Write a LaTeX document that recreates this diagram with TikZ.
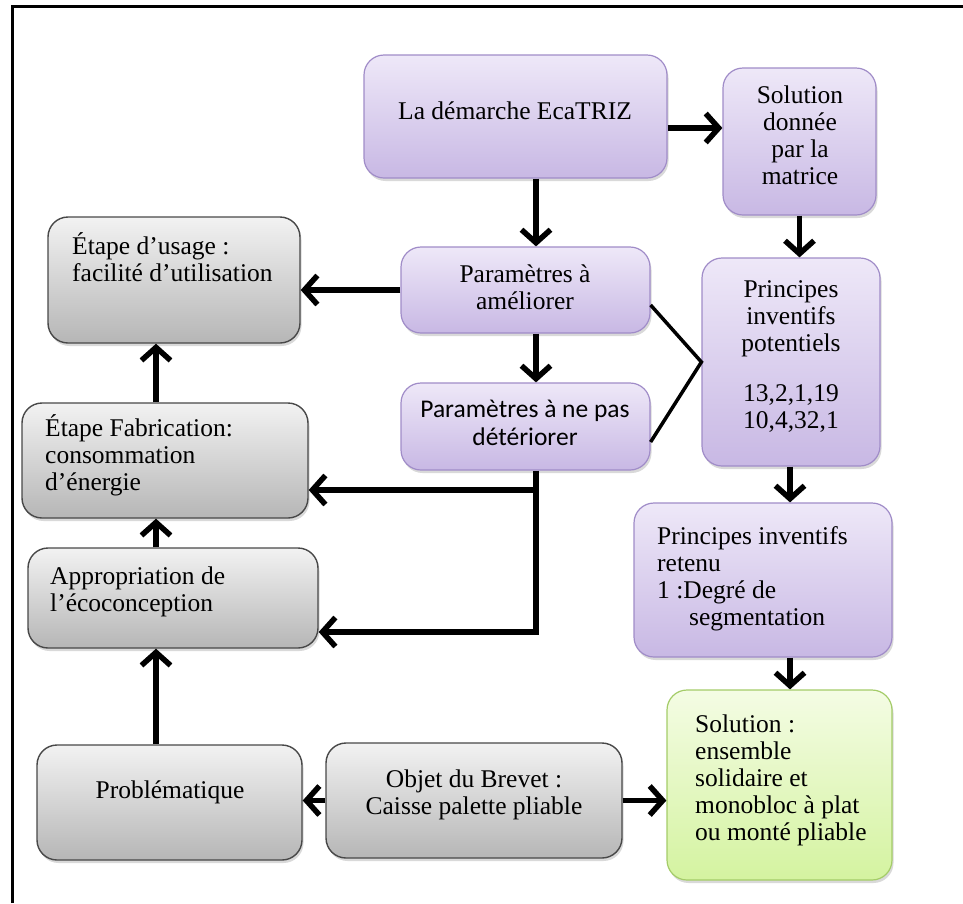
\documentclass[tikz,border=0pt]{standalone}
\usepackage{fontspec}
\setmainfont{Liberation Serif}
\newfontfamily\calibri{Carlito}
\usetikzlibrary{arrows.meta,shadows,calc}

\definecolor{mauveTop}{RGB}{238,232,248}
\definecolor{mauveBot}{RGB}{200,184,228}
\definecolor{mauveLine}{RGB}{160,140,200}
\definecolor{greyTop}{RGB}{242,242,242}
\definecolor{greyBot}{RGB}{182,182,182}
\definecolor{greyLine}{RGB}{72,72,72}
\definecolor{greenTop}{RGB}{244,252,228}
\definecolor{greenBot}{RGB}{212,243,160}
\definecolor{greenLine}{RGB}{164,204,104}

\tikzset{
  box/.style={rounded corners=20pt, inner sep=0pt,
    drop shadow={shadow xshift=1.5pt, shadow yshift=-3pt, opacity=0.3}},
  mauvebox/.style={box, draw=mauveLine, line width=1.2pt, top color=mauveTop, bottom color=mauveBot},
  greybox/.style={box, draw=greyLine, line width=1.4pt, top color=greyTop, bottom color=greyBot},
  greenbox/.style={box, draw=greenLine, line width=1.2pt, top color=greenTop, bottom color=greenBot},
  txt/.style={inner sep=0pt, align=center},
  txtl/.style={inner sep=0pt, align=left, anchor=west},
  arr/.style={line width=5.5pt, -{Straight Barb[length=13pt, width=29pt]}},
  link/.style={line width=3.5pt},
}

\begin{document}
\begin{tikzpicture}[x=1pt, y=-1pt, font=\fontsize{25.5}{27}\selectfont]
\useasboundingbox (0,0) rectangle (963,903);

% --- frame ---
\draw[line width=3pt] (12,903) -- (12,6) -- (963,6);

% --- EcaTRIZ chain (mauve) ---
\node[mauvebox, minimum width=303pt, minimum height=123pt] (ecatriz) at (515.5,116.5) {};
\node[txt] (ecatrizTxt) at (515,111) {La démarche EcaTRIZ};

\node[mauvebox, minimum width=153pt, minimum height=147pt] (matrice) at (799.5,141.5) {};
\node[txt] (matriceTxt) at (800,135) {Solution\\donnée\\par la\\matrice};

\node[mauvebox, minimum width=249pt, minimum height=86pt] (ameliorer) at (525.5,290) {};
\node[txt] (ameliorerTxt) at (525,287) {Paramètres à\\améliorer};

\node[mauvebox, minimum width=249pt, minimum height=87pt] (nepas) at (525.5,426.5) {};
\node[txt, font=\calibri\fontsize{25.5}{28}\selectfont] (nepasTxt) at (525,423) {Paramètres à ne pas\\détériorer};

\node[mauvebox, minimum width=178pt, minimum height=208pt] (potentiels) at (791,362) {};
\node[txt] (potentielsTxt) at (791,357) {Principes\\inventifs\\potentiels\\[23pt]13,2,1,19\\10,4,32,1};

\node[mauvebox, minimum width=258pt, minimum height=154pt] (retenu) at (763,580) {};
\node[txtl] (retenuTxt) at (657,579) {Principes inventifs\\retenu\\1 :Degré de\\\hspace*{32pt}segmentation};

\node[greenbox, minimum width=225pt, minimum height=190pt] (solution) at (779.5,785) {};
\node[txtl] (solutionTxt) at (695,780) {Solution :\\ensemble\\solidaire et\\monobloc à plat\\ou monté pliable};

% --- life cycle side (grey) ---
\node[greybox, minimum width=252pt, minimum height=126pt] (usage) at (174,280) {};
\node[txtl] (usageTxt) at (72,257) {Étape d’usage :\\facilité d’utilisation};

\node[greybox, minimum width=286pt, minimum height=115pt] (fabrication) at (165,460.5) {};
\node[txtl] (fabricationTxt) at (45,455) {Étape Fabrication:\\consommation\\d’énergie};

\node[greybox, minimum width=290pt, minimum height=100pt] (appropriation) at (173,598) {};
\node[txtl] (appropriationTxt) at (50,592) {Appropriation de\\l’écoconception};

\node[greybox, minimum width=265pt, minimum height=115pt] (problematique) at (169.5,802.5) {};
\node[txt] (problematiqueTxt) at (170,792) {Problématique};

\node[greybox, minimum width=296pt, minimum height=115pt] (objet) at (474,800.5) {};
\node[txt] (objetTxt) at (474,795) {Objet du Brevet :\\Caisse palette pliable};

% --- connectors ---
\coordinate (spine) at (536,0);
\coordinate (leftcol) at (156,0);
\coordinate (rightcol) at (790,0);
\coordinate (toprow) at (0,128);
\coordinate (fabrow) at (0,490);
\coordinate (approw) at (0,632);

\draw[arr] (ecatriz.south -| spine) -- (ameliorer.north -| spine);
\draw[arr] (ameliorer.south -| spine) -- (nepas.north -| spine);
\draw[arr] (ecatriz.east |- toprow) -- (matrice.west |- toprow);
\draw[arr] (matrice.south) -- (matrice.south |- potentiels.north);
\draw[arr] (potentiels.south -| rightcol) -- (retenu.north -| rightcol);
\draw[arr] (retenu.south -| rightcol) -- (solution.north -| rightcol);
\draw[arr] (ameliorer.west) -- (ameliorer.west -| usage.east);

\draw[arr] (nepas.south -| spine) |- (appropriation.east |- approw);
\draw[arr] (spine |- fabrow) -- (fabrication.east |- fabrow);

\draw[arr] (fabrication.north -| leftcol) -- (usage.south -| leftcol);
\draw[arr] (appropriation.north -| leftcol) -- (fabrication.south -| leftcol);
\draw[arr] (problematique.north -| leftcol) -- (appropriation.south -| leftcol);

\draw[arr] (objet.west) -- (objet.west -| problematique.east);
\draw[arr] (objet.east) -- (objet.east -| solution.west);

% parameters feed the inventive principles
\draw[link] ($(ameliorer.east)+(0,15)$) -- (potentiels.west) -- ($(nepas.east)+(0,15.5)$);

\end{tikzpicture}
\end{document}
